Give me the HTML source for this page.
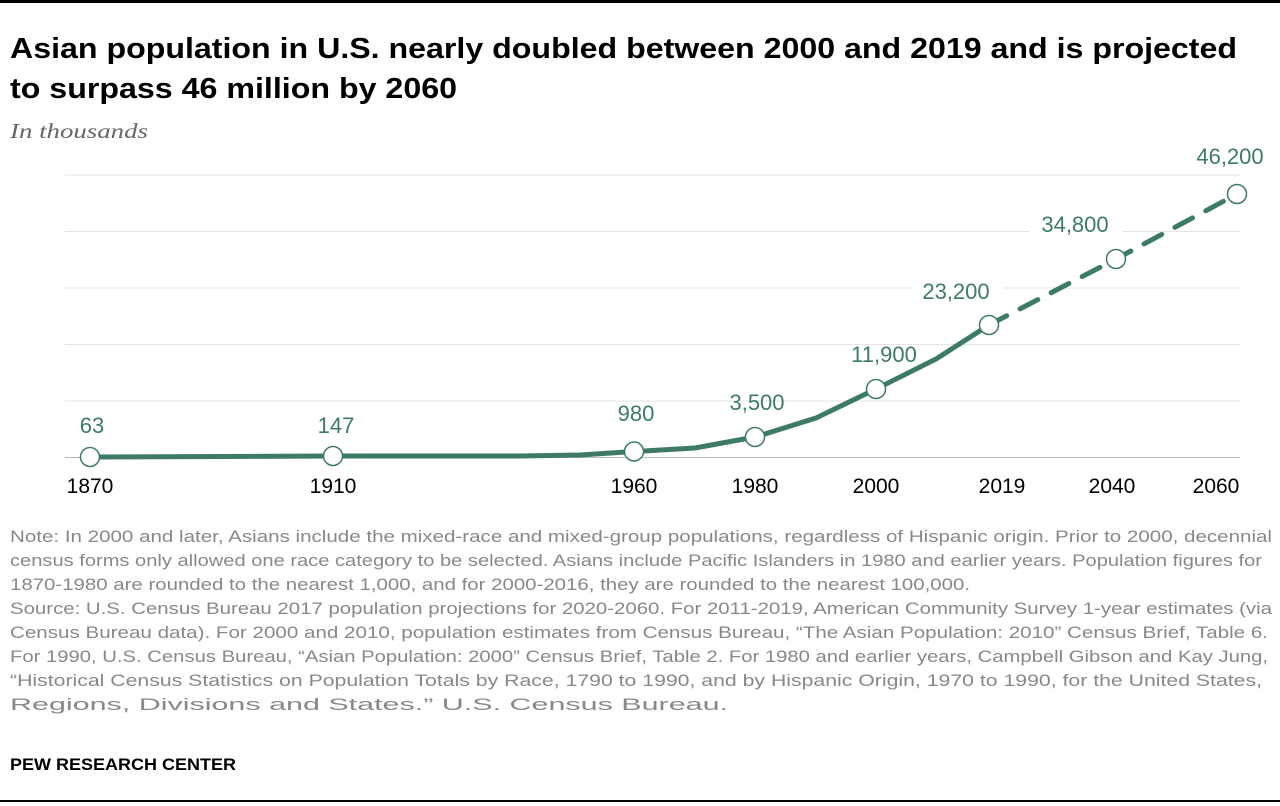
<!DOCTYPE html>
<html><head><meta charset="utf-8"><style>body{margin:0;background:#fff}svg{display:block}</style></head><body>
<svg width="1280" height="806" xmlns="http://www.w3.org/2000/svg" font-family="Liberation Sans, sans-serif">
<rect x="0" y="0" width="1280" height="3" fill="#000"/>
<rect x="0" y="800" width="1280" height="2" fill="#000"/>
<text x="10" y="58" font-size="29" font-weight="bold" textLength="1227" lengthAdjust="spacingAndGlyphs">Asian population in U.S. nearly doubled between 2000 and 2019 and is projected</text>
<text x="10" y="98" font-size="29" font-weight="bold" textLength="447" lengthAdjust="spacingAndGlyphs">to surpass 46 million by 2060</text>
<text x="10" y="138" font-size="21" font-style="italic" font-family="Liberation Serif, serif" fill="#666" textLength="138" lengthAdjust="spacingAndGlyphs">In thousands</text>
<g stroke="#e4e4e4" stroke-width="1">
<line x1="65" x2="1240" y1="175" y2="175"/><line x1="65" x2="1240" y1="231.5" y2="231.5"/><line x1="65" x2="1240" y1="288" y2="288"/><line x1="65" x2="1240" y1="344.5" y2="344.5"/><line x1="65" x2="1240" y1="401" y2="401"/>
</g>
<line x1="65" x2="1240" y1="457.5" y2="457.5" stroke="#bbb"/>
<g fill="#fff">
<rect x="1030" y="222" width="92" height="20"/><rect x="910" y="285" width="94" height="20"/>
</g>
<polyline fill="none" stroke="#3d7b67" stroke-width="5" stroke-linejoin="round" points="90,457 333,456 520,456 580,455 634,451.5 695,448 755,437 816,418 876,389 936,359 989,325"/>
<polyline fill="none" stroke="#3d7b67" stroke-width="5" stroke-linecap="round" stroke-dasharray="20,15" points="989,325 1116,259 1237,194"/>
<g fill="#fff" stroke="#3d7b67" stroke-width="1.5">
<circle cx="90" cy="457" r="9.5"/><circle cx="333" cy="456" r="9.5"/><circle cx="634" cy="451.5" r="9.5"/><circle cx="755" cy="437" r="9.5"/><circle cx="876" cy="389" r="9.5"/><circle cx="989" cy="325" r="9.5"/><circle cx="1116" cy="259" r="9.5"/><circle cx="1237" cy="194" r="9.5"/>
</g>
<g fill="#3d7b67" font-size="22" text-anchor="middle">
<text x="92" y="433">63</text><text x="336" y="433">147</text><text x="636" y="421">980</text><text x="757" y="410">3,500</text><text x="884" y="362">11,900</text><text x="956" y="299">23,200</text><text x="1075" y="232">34,800</text><text x="1230" y="164">46,200</text>
</g>
<g fill="#000" font-size="21" text-anchor="middle">
<text x="90" y="493">1870</text><text x="333" y="493">1910</text><text x="634" y="493">1960</text><text x="755" y="493">1980</text><text x="876" y="493">2000</text><text x="1002" y="493">2019</text><text x="1112" y="493">2040</text><text x="1216" y="493">2060</text>
</g>
<g fill="#888" font-size="17">
<text x="10" y="542" textLength="1262" lengthAdjust="spacingAndGlyphs">Note: In 2000 and later, Asians include the mixed-race and mixed-group populations, regardless of Hispanic origin. Prior to 2000, decennial</text>
<text x="10" y="566" textLength="1252" lengthAdjust="spacingAndGlyphs">census forms only allowed one race category to be selected. Asians include Pacific Islanders in 1980 and earlier years. Population figures for</text>
<text x="10" y="590" textLength="960" lengthAdjust="spacingAndGlyphs">1870-1980 are rounded to the nearest 1,000, and for 2000-2016, they are rounded to the nearest 100,000.</text>
<text x="10" y="614" textLength="1262" lengthAdjust="spacingAndGlyphs">Source: U.S. Census Bureau 2017 population projections for 2020-2060. For 2011-2019, American Community Survey 1-year estimates (via</text>
<text x="10" y="638" textLength="1258" lengthAdjust="spacingAndGlyphs">Census Bureau data). For 2000 and 2010, population estimates from Census Bureau, “The Asian Population: 2010” Census Brief, Table 6.</text>
<text x="10" y="662" textLength="1258" lengthAdjust="spacingAndGlyphs">For 1990, U.S. Census Bureau, “Asian Population: 2000” Census Brief, Table 2. For 1980 and earlier years, Campbell Gibson and Kay Jung,</text>
<text x="10" y="686" textLength="1252" lengthAdjust="spacingAndGlyphs">“Historical Census Statistics on Population Totals by Race, 1790 to 1990, and by Hispanic Origin, 1970 to 1990, for the United States,</text>
<text x="10" y="710" textLength="718" lengthAdjust="spacingAndGlyphs">Regions, Divisions and States.” U.S. Census Bureau.</text>
</g>
<text x="10" y="770" font-size="17" font-weight="bold" fill="#000" textLength="226" lengthAdjust="spacingAndGlyphs">PEW RESEARCH CENTER</text>
</svg>
</body></html>
